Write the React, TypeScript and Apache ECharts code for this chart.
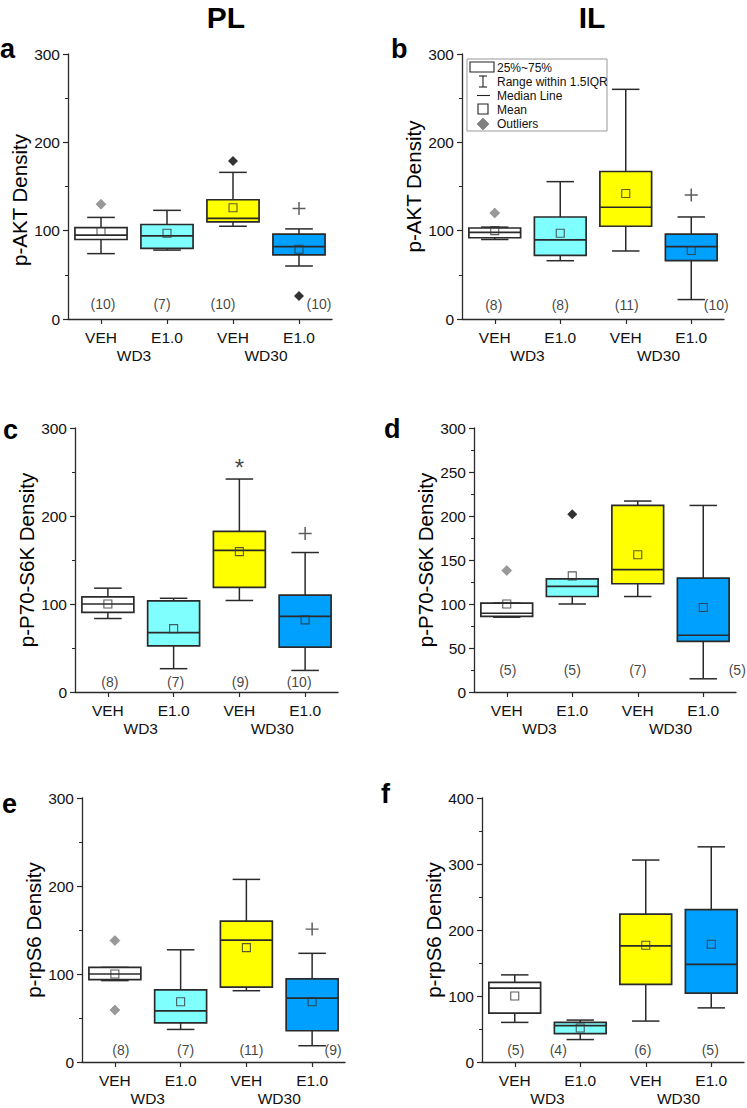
import React, { useEffect, useRef } from 'react';
import * as echarts from 'echarts';

const FONT = '"Liberation Sans", Arial, sans-serif';

const categories = ['VEH', 'E1.0', 'VEH', 'E1.0'];
const groups = ['WD3', 'WD30'];
const boxColors = ['#FFFFFF', '#80FFFF', '#FFFF00', '#00A0FF'];

// Each box: [low whisker, Q1, median, Q3, high whisker]
// Panel a: PL p-AKT
const aBoxes = [[74, 90, 95, 103.5, 115], [78, 80, 94, 107, 123], [105, 110, 114, 135, 166], [60, 72.5, 82, 96, 102]];
const aMeans = [99, 97, 126, 79];
const aGray = [[0, 130]];
const aBlack = [[2, 179], [3, 26]];
const aPlus = [[3, 125]];
const aN = [10, 7, 10, 10];

// Panel b: IL p-AKT
const bBoxes = [[90, 92, 98, 103, 104], [66, 72, 89.5, 115.5, 155.5], [77, 105, 126.5, 167, 260], [22, 66, 82, 96, 115.5]];
const bMeans = [100, 97, 142, 77.5];
const bGray = [[0, 120]];
const bBlack: number[][] = [];
const bPlus = [[3, 140.5]];
const bN = [8, 8, 11, 10];

// Panel c: PL p-P70-S6K
const cBoxes = [[83.5, 90.5, 100, 108, 118], [26.5, 52.5, 67.5, 103.5, 106.5], [104, 119, 161, 182.5, 242], [24.5, 51, 86, 110, 158.5]];
const cMeans = [100, 72, 159.5, 82];
const cGray: number[][] = [];
const cBlack: number[][] = [];
const cPlus = [[3, 180]];
const cStars = [[2, 255]];
const cN = [8, 7, 9, 10];

// Panel d: IL p-P70-S6K
const dBoxes = [[85, 86, 89.5, 101, 101], [100, 108.5, 120, 128.5, 128.5], [108.5, 123, 139, 212, 217], [15, 57.5, 64.5, 129.5, 212]];
const dMeans = [100, 132, 156, 96];
const dGray = [[0, 138]];
const dBlack = [[1, 202]];
const dPlus: number[][] = [];
const dN = [5, 5, 7, 5];

// Panel e: PL p-rpS6
const eBoxes = [[92.5, 93.5, 100, 107.5, 107.5], [37, 44.5, 58, 82, 127.5], [81, 85, 138.5, 160, 207.5], [18.5, 35.5, 72.5, 94.5, 123.5]];
const eMeans = [100, 68.5, 130, 68.5];
const eGray = [[0, 138], [0, 59]];
const eBlack: number[][] = [];
const ePlus = [[3, 151]];
const eN = [8, 7, 11, 9];

// Panel f: IL p-rpS6
const fBoxes = [[60, 74, 112, 120.5, 132], [34, 43, 55, 60, 63.5], [62, 117.5, 176, 224, 306], [82, 104.5, 148, 231, 326]];
const fMeans = [100, 51.5, 177, 178.5];
const fGray: number[][] = [];
const fBlack: number[][] = [];
const fPlus: number[][] = [];
const fN = [5, 4, 6, 5];

const PLUS = 'path://M6.2,0H7.8V6.2H14V7.8H7.8V14H6.2V7.8H0V6.2H6.2Z';

const panels = [
  { letter: 'a', lx: 0, ly: 55, boxes: aBoxes, means: aMeans, gray: aGray, black: aBlack, plus: aPlus, stars: [] as number[][], n: aN, yName: 'p-AKT Density', yMax: 300, yInt: 100, grid: { left: 68, top: 54, width: 264, height: 265 }, nY: 17, nDx: [2, -5, -10, 20], nameGap: 36, namePad: [0, 27, 0, 0] },
  { letter: 'b', lx: 391, ly: 55, boxes: bBoxes, means: bMeans, gray: bGray, black: bBlack, plus: bPlus, stars: [] as number[][], n: bN, yName: 'p-AKT Density', yMax: 300, yInt: 100, grid: { left: 462, top: 54, width: 262, height: 265 }, nY: 16, nDx: [-1, 0, 1, 25], nameGap: 35, namePad: [0, 0, 0, 0] },
  { letter: 'c', lx: 3, ly: 436, boxes: cBoxes, means: cMeans, gray: cGray, black: cBlack, plus: cPlus, stars: cStars, n: cN, yName: 'p-P70-S6K Density', yMax: 300, yInt: 100, grid: { left: 75, top: 428, width: 263, height: 264 }, nY: 11.5, nDx: [2, 2, 1, -6], nameGap: 33, namePad: [0, 0, 0, 0] },
  { letter: 'd', lx: 384, ly: 435, boxes: dBoxes, means: dMeans, gray: dGray, black: dBlack, plus: dPlus, stars: [] as number[][], n: dN, yName: 'p-P70-S6K Density', yMax: 300, yInt: 50, grid: { left: 474, top: 428, width: 262, height: 264 }, nY: 25, nDx: [1, 0, 0, 34], nameGap: 37, namePad: [0, 0, 0, 0] },
  { letter: 'e', lx: 2, ly: 810, boxes: eBoxes, means: eMeans, gray: eGray, black: eBlack, plus: ePlus, stars: [] as number[][], n: eN, yName: 'p-rpS6 Density', yMax: 300, yInt: 100, grid: { left: 82, top: 798, width: 263, height: 264 }, nY: 14, nDx: [6, 5, 5, 21], nameGap: 35, namePad: [0, 0, 0, 0] },
  { letter: 'f', lx: 381, ly: 800, boxes: fBoxes, means: fMeans, gray: fGray, black: fBlack, plus: fPlus, stars: [] as number[][], n: fN, yName: 'p-rpS6 Density', yMax: 400, yInt: 100, grid: { left: 482, top: 798, width: 262, height: 264 }, nY: 17.6, nDx: [1, -22, -3, -1], nameGap: 36, namePad: [0, 0, 0, 0] },
];

function renderBox(params: any, api: any) {
  const x = api.value(0);
  const low = api.coord([x, api.value(1)]);
  const q1 = api.coord([x, api.value(2)]);
  const med = api.coord([x, api.value(3)]);
  const q3 = api.coord([x, api.value(4)]);
  const high = api.coord([x, api.value(5)]);
  const bw = api.size([1, 0])[0] * 0.79;
  const cw = bw * 0.53;
  const cx = low[0];
  const ls = { stroke: '#2a2a2a', lineWidth: 1.5 };
  return {
    type: 'group',
    children: [
      { type: 'line', shape: { x1: cx, y1: high[1], x2: cx, y2: q3[1] }, style: ls },
      { type: 'line', shape: { x1: cx, y1: q1[1], x2: cx, y2: low[1] }, style: ls },
      { type: 'line', shape: { x1: cx - cw / 2, y1: high[1], x2: cx + cw / 2, y2: high[1] }, style: ls },
      { type: 'line', shape: { x1: cx - cw / 2, y1: low[1], x2: cx + cw / 2, y2: low[1] }, style: ls },
      { type: 'rect', shape: { x: cx - bw / 2, y: q3[1], width: bw, height: q1[1] - q3[1] }, style: { fill: boxColors[x], stroke: '#2a2a2a', lineWidth: 1.7 } },
      { type: 'line', shape: { x1: cx - bw / 2, y1: med[1], x2: cx + bw / 2, y2: med[1] }, style: { stroke: '#2a2a2a', lineWidth: 1.7 } },
    ],
  };
}

function buildOption() {
  const grid: any[] = [];
  const xAxis: any[] = [];
  const yAxis: any[] = [];
  const series: any[] = [];
  const graphic: any[] = [];

  panels.forEach((p, g) => {
    grid.push({ ...p.grid });
    xAxis.push({
      gridIndex: g, type: 'category', data: categories, position: 'bottom',
      axisLine: { show: true, onZero: false, lineStyle: { color: '#2a2a2a', width: 1.3 } },
      axisTick: { show: true, alignWithLabel: true, length: 5, lineStyle: { color: '#2a2a2a', width: 1.2 } },
      axisLabel: { fontSize: 15.5, color: '#111', margin: 10, fontFamily: FONT, interval: 0 },
      splitLine: { show: false },
    });
    xAxis.push({
      gridIndex: g, type: 'category', data: groups, position: 'bottom', offset: 18,
      axisLine: { show: false }, axisTick: { show: false },
      axisLabel: { fontSize: 15.5, color: '#111', margin: 10, fontFamily: FONT, interval: 0 },
      splitLine: { show: false },
    });
    yAxis.push({
      gridIndex: g, type: 'value', min: 0, max: p.yMax, interval: p.yInt,
      name: p.yName, nameLocation: 'middle', nameGap: p.nameGap, nameRotate: 90,
      nameTextStyle: { fontSize: 20.5, color: '#000', fontFamily: FONT, padding: p.namePad },
      axisLine: { show: true, lineStyle: { color: '#2a2a2a', width: 1.3 } },
      axisTick: { show: true, length: 5, lineStyle: { color: '#2a2a2a', width: 1.2 } },
      minorTick: { show: true, splitNumber: 2, length: 3, lineStyle: { color: '#2a2a2a' } },
      axisLabel: { fontSize: 15.5, color: '#111', margin: 8, fontFamily: FONT },
      splitLine: { show: false },
    });
    const xi = g * 2;
    series.push({
      type: 'custom', xAxisIndex: xi, yAxisIndex: g, renderItem: renderBox,
      data: p.boxes.map((b, i) => [i, ...b]), silent: true, z: 2,
    });
    series.push({
      type: 'scatter', xAxisIndex: xi, yAxisIndex: g, symbol: 'rect', symbolSize: 8,
      itemStyle: { color: 'rgba(0,0,0,0)', borderColor: '#333', borderWidth: 1.1 },
      data: p.means.map((m, i) => [i, m]), silent: true, z: 5,
    });
    if (p.gray.length) series.push({
      type: 'scatter', xAxisIndex: xi, yAxisIndex: g, symbol: 'diamond', symbolSize: 10,
      itemStyle: { color: '#808080', borderColor: '#666', borderWidth: 0.5 },
      data: p.gray, silent: true, z: 5,
    });
    if (p.black.length) series.push({
      type: 'scatter', xAxisIndex: xi, yAxisIndex: g, symbol: 'diamond', symbolSize: 10,
      itemStyle: { color: '#000' }, data: p.black, silent: true, z: 5,
    });
    if (p.plus.length) series.push({
      type: 'scatter', xAxisIndex: xi, yAxisIndex: g, symbol: PLUS, symbolSize: 13,
      itemStyle: { color: '#333' }, data: p.plus, silent: true, z: 5,
    });
    if (p.stars.length) series.push({
      type: 'scatter', xAxisIndex: xi, yAxisIndex: g, symbolSize: 1,
      itemStyle: { color: 'rgba(0,0,0,0)' },
      label: { show: true, position: 'inside', formatter: '*', fontSize: 24, color: '#111', fontFamily: FONT },
      data: p.stars, silent: true, z: 5,
    });
    series.push({
      type: 'scatter', xAxisIndex: xi, yAxisIndex: g, symbolSize: 1,
      itemStyle: { color: 'rgba(0,0,0,0)' },
      data: p.n.map((n, i) => ({
        value: [i, p.nY],
        label: { show: true, position: 'inside', formatter: '(' + n + ')', offset: [p.nDx[i], 0], fontSize: 14, color: '#111', fontFamily: FONT },
      })),
      silent: true, z: 6,
    });
    graphic.push({
      type: 'text', left: p.lx, top: p.ly - 20,
      style: { text: p.letter, font: 'bold 27px ' + FONT, fill: '#000' },
    });
  });

  graphic.push({ type: 'text', x: 226, y: 17, style: { text: 'PL', font: 'bold 30px ' + FONT, fill: '#000', textAlign: 'center', textVerticalAlign: 'middle' } });
  graphic.push({ type: 'text', x: 592, y: 17, style: { text: 'IL', font: 'bold 30px ' + FONT, fill: '#000', textAlign: 'center', textVerticalAlign: 'middle' } });

  // Legend for panel b
  const lf = '12px ' + FONT;
  const lstroke = { stroke: '#222', lineWidth: 1.1, fill: 'none' };
  graphic.push({
    type: 'group', z: 100,
    children: [
      { type: 'rect', shape: { x: 467, y: 59, width: 140, height: 72 }, style: { fill: '#fff', stroke: '#999', lineWidth: 1 } },
      { type: 'rect', shape: { x: 470, y: 62, width: 24, height: 10 }, style: { ...lstroke } },
      { type: 'text', x: 497, y: 67.5, style: { text: '25%~75%', font: lf, fill: '#111', textVerticalAlign: 'middle' } },
      { type: 'line', shape: { x1: 483, y1: 76, x2: 483, y2: 87 }, style: { ...lstroke } },
      { type: 'line', shape: { x1: 479, y1: 76, x2: 487, y2: 76 }, style: { ...lstroke } },
      { type: 'line', shape: { x1: 479, y1: 87, x2: 487, y2: 87 }, style: { ...lstroke } },
      { type: 'text', x: 497, y: 81.5, style: { text: 'Range within 1.5IQR', font: lf, fill: '#111', textVerticalAlign: 'middle' } },
      { type: 'line', shape: { x1: 477, y1: 95.5, x2: 490, y2: 95.5 }, style: { ...lstroke } },
      { type: 'text', x: 497, y: 95.5, style: { text: 'Median Line', font: lf, fill: '#111', textVerticalAlign: 'middle' } },
      { type: 'rect', shape: { x: 478, y: 104, width: 10, height: 10 }, style: { ...lstroke } },
      { type: 'text', x: 497, y: 109.5, style: { text: 'Mean', font: lf, fill: '#111', textVerticalAlign: 'middle' } },
      { type: 'polygon', shape: { points: [[483, 118], [489, 124], [483, 130], [477, 124]] }, style: { fill: '#808080', stroke: '#666', lineWidth: 0.5 } },
      { type: 'text', x: 497, y: 123.5, style: { text: 'Outliers', font: lf, fill: '#111', textVerticalAlign: 'middle' } },
    ],
  });

  return {
    animation: false,
    backgroundColor: '#fff',
    textStyle: { fontFamily: FONT },
    grid, xAxis, yAxis, series, graphic,
  };
}

export default function App() {
  const ref = useRef<HTMLDivElement>(null);
  useEffect(() => {
    document.body.style.margin = '0';
    if (!ref.current) return;
    const chart = echarts.init(ref.current, undefined, { renderer: 'svg' });
    chart.setOption(buildOption() as any);
    return () => chart.dispose();
  }, []);
  return <div ref={ref} style={{ width: 747, height: 1108 }} />;
}
